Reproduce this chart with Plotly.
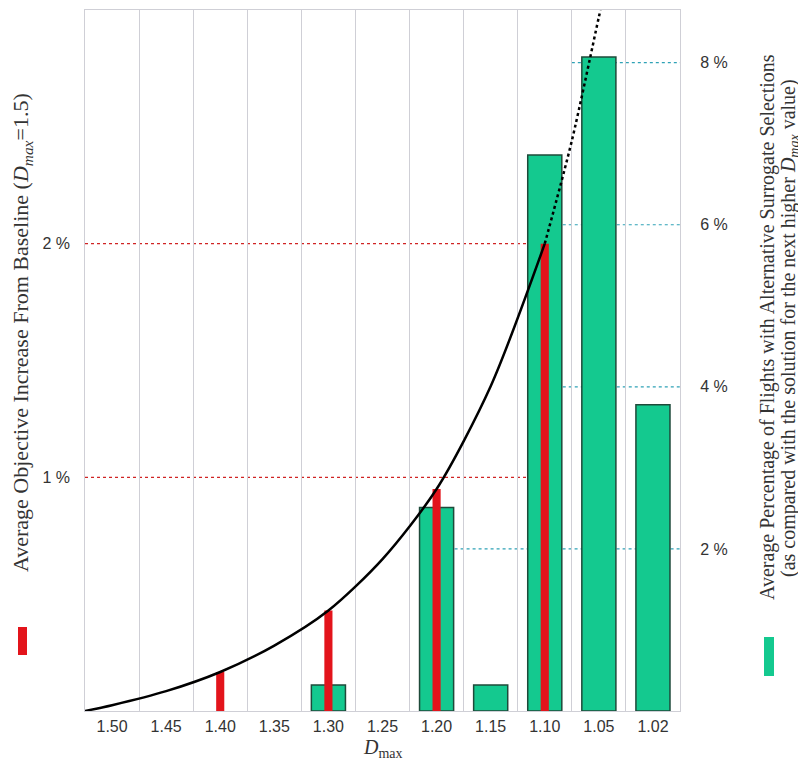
import plotly.graph_objects as go

# ---- data ----
dmax_labels = ["1.50", "1.45", "1.40", "1.35", "1.30", "1.25", "1.20", "1.15", "1.10", "1.05", "1.02"]
cat_index = list(range(len(dmax_labels)))

# Average objective increase from baseline (%), left axis
objective_increase = [None, None, 0.167, None, 0.43, None, 0.95, None, 2.0, None, None]
# Percentage of flights with alternative surrogate selections (%), right axis
alt_selections = [None, None, None, None, 0.32, None, 2.51, 0.32, 6.86, 8.07, 3.78]

# Trend curve (solid part, then dotted extrapolation)
curve_x = [-0.5, 0, 1, 2, 3, 4, 5, 6, 7, 8]
curve_y = [0.0, 0.025, 0.085, 0.167, 0.28, 0.43, 0.65, 0.95, 1.39, 2.0]
extrap_x = [8, 8.5, 9, 9.03]
extrap_y = [2.0, 2.44, 2.97, 3.0]

left_ticks = [1, 2]
left_ticktext = ["1 %", "2 %"]
right_ticks = [2, 4, 6, 8]
right_ticktext = ["2 %", "4 %", "6 %", "8 %"]

# ---- layout geometry ----
# The page body has an 8px margin, so the figure is offset by 8px; margins compensate.
OFF = 8
W, H = 806, 773
PL, PR, PT, PB = 85, 680, 10, 711          # plot area in page pixels
L, T = PL - OFF, PT - OFF
R, B = W - (PR - OFF), H - (PB - OFF)
PW, PH = PR - PL, PB - PT

def px(xp):
    return (xp - PL) / PW

def py(yp):
    return (PB - yp) / PH

GREEN = "#14C98F"
RED = "#E3141B"
GRID = "#CFCFD6"

fig = go.Figure()

fig.add_trace(go.Bar(
    x=cat_index, y=alt_selections, yaxis="y", width=0.63,
    marker=dict(color=GREEN, line=dict(color="#1E4A3A", width=1.5)),
    showlegend=False, hoverinfo="skip"))

fig.add_trace(go.Bar(
    x=cat_index, y=objective_increase, yaxis="y2", width=0.15,
    marker=dict(color=RED, line=dict(width=0)),
    showlegend=False, hoverinfo="skip"))

fig.add_trace(go.Scatter(
    x=curve_x, y=curve_y, yaxis="y2", mode="lines",
    line=dict(color="black", width=2.5, shape="spline", smoothing=0.8),
    showlegend=False, hoverinfo="skip"))

fig.add_trace(go.Scatter(
    x=extrap_x, y=extrap_y, yaxis="y2", mode="lines",
    line=dict(color="black", width=2.5, dash="dot", shape="spline", smoothing=0.8),
    showlegend=False, hoverinfo="skip"))

shapes = []
for v in left_ticks:
    shapes.append(dict(type="line", xref="x", yref="y2", x0=-0.5, x1=8, y0=v, y1=v,
                       line=dict(color="#D02424", width=1.2, dash="dot"), layer="below"))
right_starts = {2: 6, 4: 8, 6: 8, 8: 8.5}
for v in right_ticks:
    shapes.append(dict(type="line", xref="x", yref="y", x0=right_starts[v], x1=10.5, y0=v, y1=v,
                       line=dict(color="#2FA2B6", width=1.2, dash="dot"), layer="below"))
# legend markers next to axis titles
shapes.append(dict(type="rect", xref="paper", yref="paper",
                   x0=px(18), x1=px(27), y0=py(655), y1=py(627),
                   fillcolor=RED, line=dict(width=0)))
shapes.append(dict(type="rect", xref="paper", yref="paper",
                   x0=px(764), x1=px(774), y0=py(676), y1=py(637),
                   fillcolor=GREEN, line=dict(width=0)))

annotations = [
    dict(xref="paper", yref="paper", x=px(22), y=py(333), textangle=-90,
         text="Average Objective Increase From Baseline (<i>D</i><sub><i>max</i></sub>=1.5)",
         showarrow=False, font=dict(family="Liberation Serif", size=22, color="#333333"),
         xanchor="center", yanchor="middle"),
    dict(xref="paper", yref="paper", x=px(767), y=py(327), textangle=-90,
         text="Average Percentage of Flights with Alternative Surrogate Selections",
         showarrow=False, font=dict(family="Liberation Serif", size=20, color="#333333"),
         xanchor="center", yanchor="middle"),
    dict(xref="paper", yref="paper", x=px(789), y=py(328), textangle=-90,
         text="(as compared with the solution for the next higher <i>D</i><sub><i>max</i></sub> value)",
         showarrow=False, font=dict(family="Liberation Serif", size=20, color="#333333"),
         xanchor="center", yanchor="middle"),
    dict(xref="paper", yref="paper", x=px(383), y=py(748),
         text="<i>D</i><sub>max</sub>", showarrow=False,
         font=dict(family="Liberation Serif", size=20, color="#333333"),
         xanchor="center", yanchor="middle"),
]

tick_font = dict(family="Liberation Sans", size=16, color="#333333")

fig.update_layout(
    width=W, height=H,
    margin=dict(l=L, r=R, t=T, b=B, pad=0, autoexpand=False),
    paper_bgcolor="white", plot_bgcolor="white",
    barmode="overlay",
    showlegend=False,
    shapes=shapes, annotations=annotations,
    xaxis=dict(range=[-0.5, 10.5], tickvals=cat_index, ticktext=dmax_labels,
               showgrid=False, zeroline=False, ticks="", automargin=False,
               minor=dict(tick0=-0.5, dtick=1, showgrid=True, gridcolor=GRID, gridwidth=1),
               showline=True, linecolor=GRID, linewidth=1, mirror=True,
               tickfont=tick_font, ticklabelstandoff=1),
    yaxis=dict(range=[0, 8.65], side="right", tickvals=right_ticks, ticktext=right_ticktext,
               showgrid=False, zeroline=False, ticks="", automargin=False,
               showline=True, linecolor=GRID, linewidth=1, mirror=True,
               tickfont=tick_font, ticklabelstandoff=16),
    yaxis2=dict(range=[0, 3.0], side="left", overlaying="y", tickvals=left_ticks,
                ticktext=left_ticktext, showgrid=False, zeroline=False, ticks="",
                automargin=False, showline=False, tickfont=tick_font, ticklabelstandoff=14),
)

fig.write_html("out.html")
